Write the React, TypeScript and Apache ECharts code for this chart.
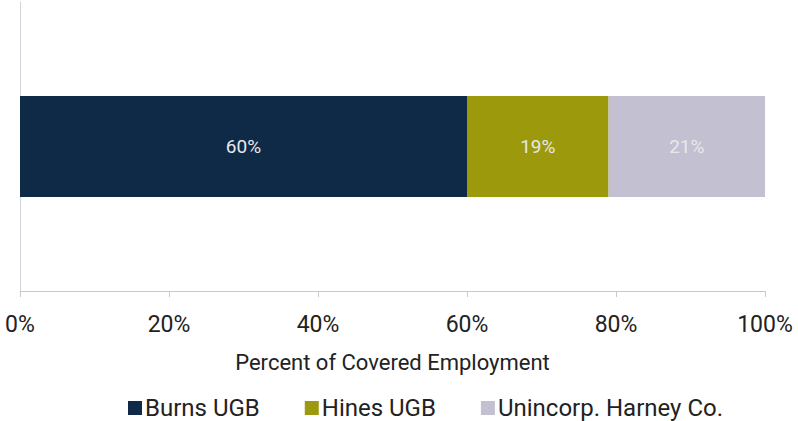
import React, { useEffect, useRef } from "react";
import * as echarts from "echarts";

const categories = ["Covered Employment"];
const seriesNames = ["Burns UGB", "Hines UGB", "Unincorp. Harney Co."];
const burnsValues = [60];
const hinesValues = [19];
const unincorpValues = [21];
const colors = ["#0f2a47", "#9c9a0c", "#c3c0d2"];
const axisTicks = [0, 20, 40, 60, 80, 100];

const FONT = "Roboto, 'Liberation Sans', sans-serif";

export default function App() {
  const ref = useRef<HTMLDivElement>(null);
  useEffect(() => {
    const chart = echarts.init(ref.current!, null, { renderer: "svg" });
    const values = [burnsValues, hinesValues, unincorpValues];
    chart.setOption({
      animation: false,
      grid: { left: 20, right: 33, top: 2, bottom: 130, containLabel: false },
      legend: {
        top: 391,
        left: 123,
        itemWidth: 14,
        itemHeight: 14,
        itemGap: 45,
        icon: "rect",
        textStyle: { fontSize: 24, color: "#222", fontFamily: FONT, padding: [0, 0, 0, -2] },
        data: seriesNames,
      },
      xAxis: {
        type: "value",
        min: axisTicks[0],
        max: axisTicks[axisTicks.length - 1],
        interval: 20,
        name: "Percent of Covered Employment",
        nameLocation: "middle",
        nameGap: 60,
        nameTextStyle: { fontSize: 22, color: "#222", fontFamily: FONT },
        axisLine: { show: true, lineStyle: { color: "#c8c8d4", width: 1 } },
        axisTick: { show: true, length: 6, lineStyle: { color: "#c8c8d4" } },
        splitLine: { show: false },
        axisLabel: {
          formatter: "{value}%",
          fontSize: 23,
          color: "#222",
          margin: 22,
          fontFamily: FONT,
        },
      },
      yAxis: {
        type: "category",
        data: categories,
        axisLine: { show: true, lineStyle: { color: "#d4d4dc" } },
        axisTick: { show: false },
        axisLabel: { show: false },
      },
      series: seriesNames.map((name, i) => ({
        name,
        type: "bar",
        stack: "total",
        barWidth: 101,
        data: values[i],
        itemStyle: { color: colors[i] },
        label: {
          show: true,
          position: "inside",
          formatter: "{c}%",
          color: "#e8e8ec",
          fontSize: 19,
          fontFamily: FONT,
        },
      })),
    });
    return () => chart.dispose();
  }, []);
  return <div ref={ref} style={{ width: 798, height: 421, position: "absolute", left: 0, top: 0 }} />;
}
